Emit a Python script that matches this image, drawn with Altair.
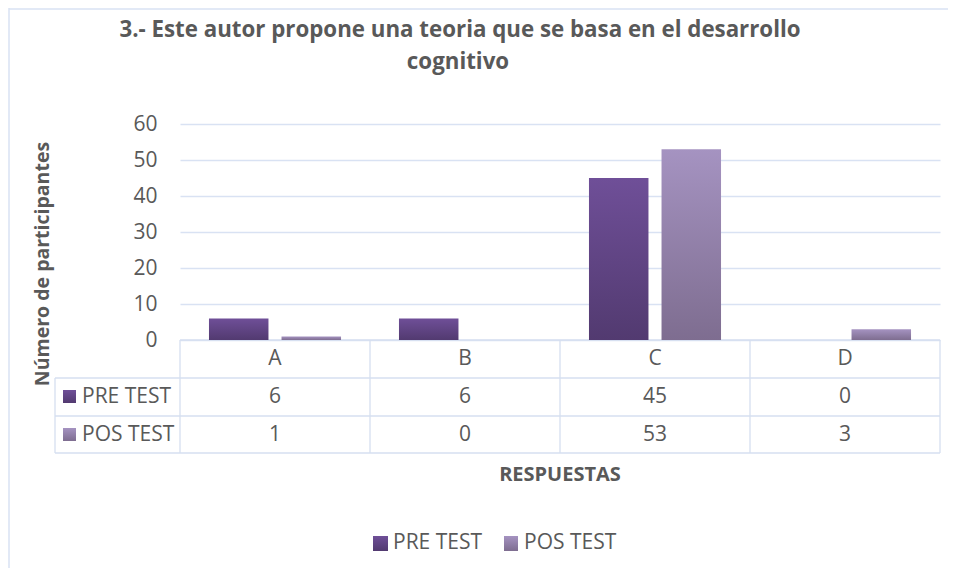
import altair as alt
import pandas as pd

categories = ["A", "B", "C", "D"]
series = ["PRE TEST", "POS TEST"]
pre_test = [6, 6, 45, 0]
pos_test = [1, 0, 53, 3]
y_ticks = [0, 10, 20, 30, 40, 50, 60]
title_lines = ["3.- Este autor propone una teoria que se basa en el desarrollo", "cognitivo"]
y_title = "Número de participantes"
x_title = "RESPUESTAS"

rows = []
for i, c in enumerate(categories):
    rows.append({"cat": c, "series": series[0], "value": pre_test[i]})
    rows.append({"cat": c, "series": series[1], "value": pos_test[i]})
df = pd.DataFrame(rows)

W, H = 760, 216
FONT = "Open Sans"
TXT = "#595959"
GRID = "#d9e2f3"
LINE = "#d6dff0"
PRE_TOP, PRE_BOT = "#6f4f98", "#523a70"
POS_TOP, POS_BOT = "#a593c1", "#7e6d90"
FS = 21


def grad(top, bottom):
    return alt.Gradient(
        gradient="linear", x1=0, y1=0, x2=0, y2=1,
        stops=[alt.GradientStop(color=top, offset=0),
               alt.GradientStop(color=bottom, offset=1)])


x_scale = alt.Scale(domain=categories, paddingInner=0.305, paddingOuter=0.1525)
xo_scale = alt.Scale(domain=series, paddingInner=0.18, paddingOuter=0)
y_scale = alt.Scale(domain=[0, 60], nice=False)
y_axis = alt.Axis(values=y_ticks, title=None, domain=False, ticks=False,
                  labelOverlap=False, labelFont=FONT, labelFontSize=FS,
                  labelColor=TXT, labelPadding=23, gridColor=GRID, gridWidth=1.5)

one = pd.DataFrame({"k": [0]})


def rule(x1, x2, y1, y2, color=LINE, w=1.3):
    return alt.Chart(one).mark_rule(color=color, strokeWidth=w).encode(
        x=alt.value(x1), x2=alt.value(x2), y=alt.value(y1), y2=alt.value(y2))


def label(txt, x, y, size=FS, bold=False, align="left", angle=0):
    kw = dict(text=txt, font=FONT, fontSize=size, color=TXT, align=align,
              baseline="middle", fontWeight="bold" if bold else "normal")
    if angle:
        kw["angle"] = angle
    return alt.Chart(one).mark_text(**kw).encode(x=alt.value(x), y=alt.value(y))


def swatch(x1, x2, y1, y2, top, bot):
    return alt.Chart(one).mark_rect(color=grad(top, bot)).encode(
        x=alt.value(x1), x2=alt.value(x2), y=alt.value(y1), y2=alt.value(y2))


base = alt.Chart(df)

axis_layer = base.mark_bar(opacity=0).encode(
    x=alt.X("cat:N", scale=x_scale, axis=None),
    y=alt.Y("value:Q", scale=y_scale, axis=y_axis),
)

layers = [axis_layer]

# table grid
row_y = [216, 254, 292, 329]
layers.append(rule(0, W, 216, 216))
for yy in row_y[1:]:
    layers.append(rule(-125, W, yy, yy))
layers.append(rule(-125, -125, 254, 329))
for xx in [0, 190, 380, 570, 760]:
    layers.append(rule(xx, xx, 216, 329))

# chart border
layers.append(rule(-171, -171, -116, 444, color=GRID, w=1.5))
layers.append(rule(-171, 768, -115, -115, color=GRID, w=1.5))

for s, top, bot in [(series[0], PRE_TOP, PRE_BOT), (series[1], POS_TOP, POS_BOT)]:
    layers.append(
        base.transform_filter(alt.datum.series == s).mark_bar(color=grad(top, bot)).encode(
            x=alt.X("cat:N", scale=x_scale, axis=None),
            xOffset=alt.XOffset("series:N", scale=xo_scale),
            y=alt.Y("value:Q", scale=y_scale, axis=y_axis),
        )
    )

# header row
layers.append(
    alt.Chart(pd.DataFrame({"cat": categories})).mark_text(
        font=FONT, fontSize=FS, color=TXT, baseline="middle").encode(
        x=alt.X("cat:N", scale=x_scale, axis=None), y=alt.value(235), text="cat:N")
)
for s, yy in [(series[0], 273), (series[1], 311)]:
    layers.append(
        base.transform_filter(alt.datum.series == s).mark_text(
            font=FONT, fontSize=FS, color=TXT, baseline="middle").encode(
            x=alt.X("cat:N", scale=x_scale, axis=None), y=alt.value(yy), text="value:Q")
    )

# table legend keys
layers.append(swatch(-117, -104, 266, 279, PRE_TOP, PRE_BOT))
layers.append(label(series[0], -98, 273))
layers.append(swatch(-117, -104, 304, 317, POS_TOP, POS_BOT))
layers.append(label(series[1], -98, 311))

# bottom legend
layers.append(swatch(193, 208, 412, 427, PRE_TOP, PRE_BOT))
layers.append(label(series[0], 213, 419))
layers.append(swatch(324, 338, 412, 427, POS_TOP, POS_BOT))
layers.append(label(series[1], 344, 419))

# titles
layers.append(label(title_lines[0], 280, -94, size=22.3, bold=True, align="center"))
layers.append(label(title_lines[1], 278, -62, size=22.3, bold=True, align="center"))
layers.append(label(y_title, -137, 140, size=19.5, bold=True, align="center", angle=270))
layers.append(label(x_title, 380, 351, size=20, bold=True, align="center"))

chart = alt.layer(*layers).properties(
    width=W, height=H,
    autosize=alt.AutoSizeParams(type="none"),
    padding={"left": 172, "top": 116, "right": 8, "bottom": 228},
    background="white",
).configure_view(stroke=None)

chart.save("out.html", embed_options={"renderer": "svg", "actions": False})
